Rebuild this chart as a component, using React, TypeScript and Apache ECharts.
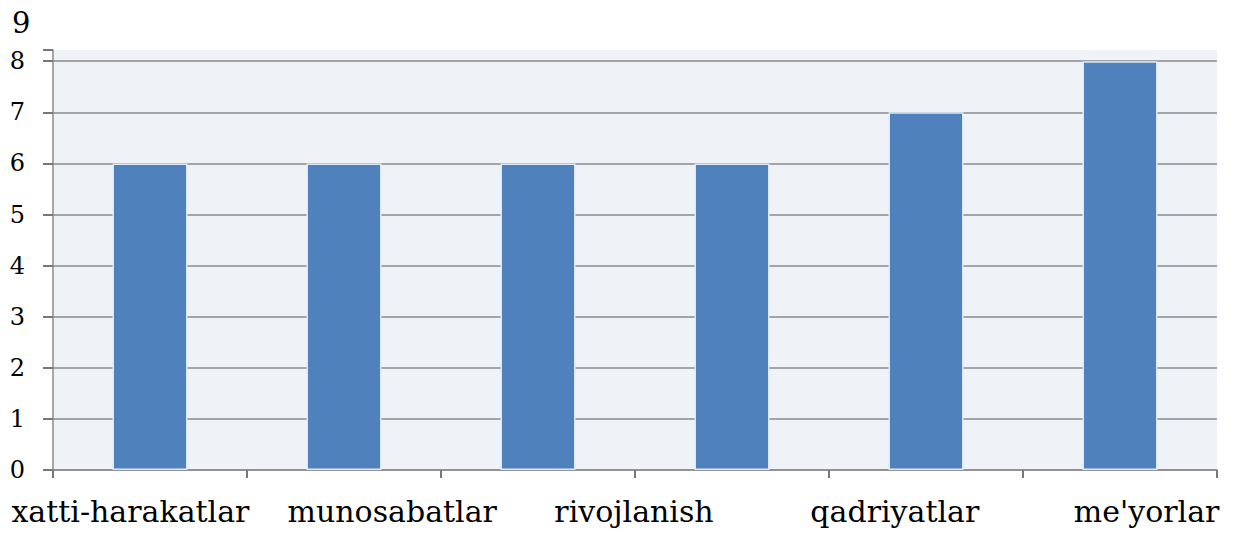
import React, { useEffect, useRef } from "react";
import * as echarts from "echarts";

// Data
const barCategories = ["1", "2", "3", "4", "5", "6"];
const barValues = [6, 6, 6, 6, 7, 8];
const axisLabels = ["xatti-harakatlar", "munosabatlar", "rivojlanish", "qadriyatlar", "me'yorlar"];
const yTicks = [0, 1, 2, 3, 4, 5, 6, 7, 8];
const topLabel = "9";

// Layout (label shifts in px relative to band centre)
const labelShift = [-39, -10, -1, 27, 46];

const SERIF = "DejaVu Serif";

export default function App() {
  const ref = useRef<HTMLDivElement>(null);
  useEffect(() => {
    if (!ref.current) return;
    const chart = echarts.init(ref.current, null, { renderer: "svg" });
    const rich: Record<string, any> = {};
    labelShift.forEach((d, i) => {
      rich["l" + i] = {
        fontFamily: SERIF,
        fontSize: 30,
        color: "#000",
        padding: d < 0 ? [0, -2 * d, 0, 0] : [0, 0, 0, 2 * d],
      };
    });
    chart.setOption({
      animation: false,
      backgroundColor: "#ffffff",
      grid: { left: 53, right: 16, top: 50, bottom: 64, backgroundColor: "#eff3f8", show: true, borderWidth: 0 },
      xAxis: [
        {
          type: "category",
          data: barCategories,
          axisLine: { show: true, lineStyle: { color: "#8c8c8c", width: 1.5 } },
          axisTick: { show: true, length: 8, lineStyle: { color: "#777", width: 2 } },
          axisLabel: { show: false },
          splitLine: { show: false },
        },
        {
          type: "category",
          data: axisLabels,
          position: "bottom",
          axisLine: { show: false },
          axisTick: { show: false },
          splitLine: { show: false },
          axisLabel: {
            interval: 0,
            margin: 26,
            fontFamily: SERIF,
            fontSize: 30,
            color: "#000",
            formatter: (v: string, i: number) => `{l${i}|${v}}`,
            rich,
          },
        },
      ],
      yAxis: {
        type: "value",
        min: 0,
        max: 8.22,
        interval: 1,
        axisLine: { show: true, lineStyle: { color: "#8c8c8c", width: 1.5 } },
        axisTick: { show: true, inside: false, length: 10, lineStyle: { color: "#777", width: 2 } },
        axisLabel: {
          customValues: yTicks,
          margin: 28,
          fontFamily: SERIF,
          fontSize: 24,
          color: "#000",
          formatter: (v: number) => (Number.isInteger(v) ? String(v) : ""),
        },
        splitLine: { show: true, showMaxLine: false, lineStyle: { color: "#8a8a8a", width: 1.5 } },
      },
      graphic: [
        {
          type: "text",
          left: 12,
          top: 8,
          style: { text: topLabel, fontFamily: SERIF, fontSize: 29, fill: "#000" },
        },
      ],
      series: [
        {
          type: "bar",
          xAxisIndex: 0,
          data: barValues,
          barWidth: 75,
          itemStyle: { color: "#4f81bd", borderColor: "#dde9f6", borderWidth: 1.5 },
        },
      ],
    });
    return () => chart.dispose();
  }, []);
  return <div ref={ref} style={{ position: "absolute", left: 0, top: 0, width: 1233, height: 534 }} />;
}
